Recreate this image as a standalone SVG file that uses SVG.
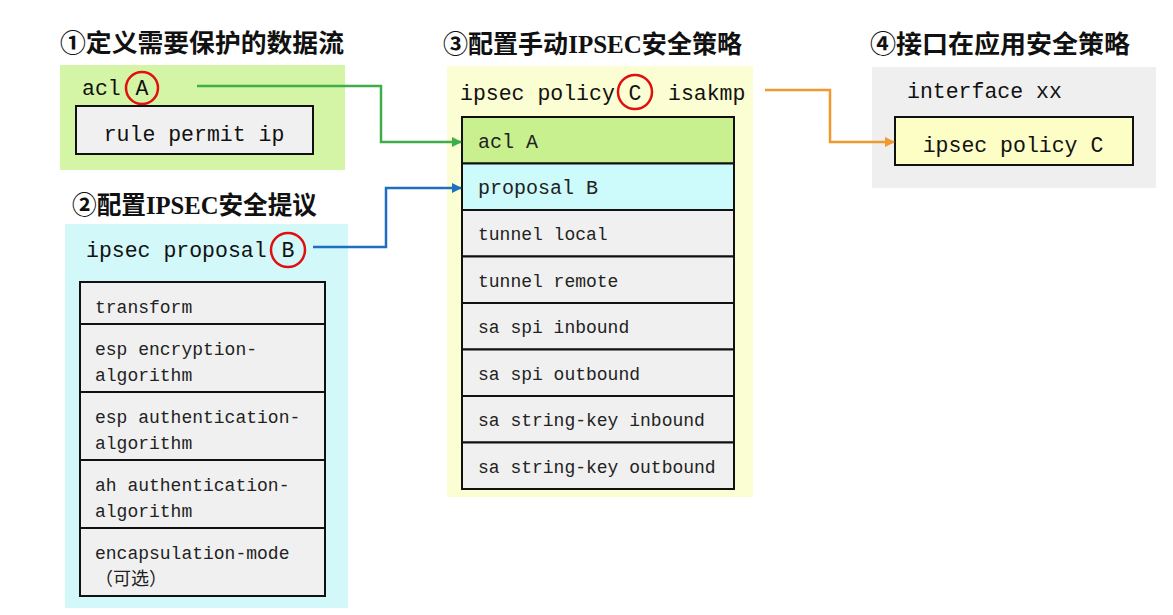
<svg xmlns="http://www.w3.org/2000/svg" width="1173" height="615" viewBox="0 0 1173 615">
<defs>
<style>
.h{font-family:"Liberation Serif","Noto Sans CJK SC",serif;font-weight:bold;font-size:25px;fill:#111}
.m{font-family:"Liberation Mono","Noto Sans CJK SC",monospace;font-size:21.5px;fill:#111}
.s{font-family:"Liberation Mono","Noto Sans CJK SC",monospace;font-size:18px;fill:#222}
.row{fill:#f0f0f0;stroke:#111;stroke-width:2}
.circ{fill:none;stroke:#e01010;stroke-width:2.5}
.conn{fill:none;stroke-width:2.5}
</style>
<marker id="ag" markerWidth="10" markerHeight="10" refX="9" refY="5" orient="auto" markerUnits="userSpaceOnUse"><path d="M0,0 L10,5 L0,10 z" fill="#3fae49"/></marker>
<marker id="ab" markerWidth="10" markerHeight="10" refX="9" refY="5" orient="auto" markerUnits="userSpaceOnUse"><path d="M0,0 L10,5 L0,10 z" fill="#1f6fc0"/></marker>
<marker id="ao" markerWidth="10" markerHeight="10" refX="9" refY="5" orient="auto" markerUnits="userSpaceOnUse"><path d="M0,0 L10,5 L0,10 z" fill="#f0992e"/></marker>
</defs>
<rect width="1173" height="615" fill="#ffffff"/>

<g id="acl-panel">
<text class="h" x="60" y="52" textLength="284" lengthAdjust="spacingAndGlyphs">①定义需要保护的数据流</text>
<rect x="60" y="65" width="285" height="105" fill="#d5f5a6"/>
<text class="m" x="82" y="95">acl</text>
<circle class="circ" cx="142" cy="88" r="16"/>
<text class="m" x="142" y="95" text-anchor="middle">A</text>
<rect x="76" y="106" width="237" height="48" class="row"/>
<text class="m" x="194" y="141" text-anchor="middle">rule permit ip</text>
</g>

<g id="proposal-panel">
<text class="h" x="72" y="214" textLength="245" lengthAdjust="spacingAndGlyphs">②配置IPSEC安全提议</text>
<rect x="65" y="224" width="283" height="384" fill="#d2f8fa"/>
<text class="m" x="86" y="257">ipsec proposal</text>
<circle class="circ" cx="288" cy="250" r="17"/>
<text class="m" x="288" y="257" text-anchor="middle">B</text>
<rect x="80" y="282" width="245" height="42" class="row"/>
<rect x="80" y="324" width="245" height="68" class="row"/>
<rect x="80" y="392" width="245" height="68" class="row"/>
<rect x="80" y="460" width="245" height="68" class="row"/>
<rect x="80" y="528" width="245" height="68" class="row"/>
<text class="s" x="95" y="313">transform</text>
<text class="s" x="95" y="355">esp encryption-</text>
<text class="s" x="95" y="381">algorithm</text>
<text class="s" x="95" y="423">esp authentication-</text>
<text class="s" x="95" y="449">algorithm</text>
<text class="s" x="95" y="491">ah authentication-</text>
<text class="s" x="95" y="517">algorithm</text>
<text class="s" x="95" y="559">encapsulation-mode</text>
<text class="s" x="95" y="585">（可选）</text>
</g>

<g id="policy-panel">
<text class="h" x="443" y="53" textLength="299" lengthAdjust="spacingAndGlyphs">③配置手动IPSEC安全策略</text>
<rect x="447" y="66" width="306" height="431" fill="#fbfdd2"/>
<text class="m" x="460" y="100">ipsec policy</text>
<circle class="circ" cx="635" cy="92" r="17"/>
<text class="m" x="635" y="100" text-anchor="middle">C</text>
<text class="m" x="668" y="100">isakmp</text>
<rect x="462" y="117" width="272" height="46.5" class="row" style="fill:#c9f08e"/>
<rect x="462" y="163.5" width="272" height="46.5" class="row" style="fill:#cdfafa"/>
<rect x="462" y="210" width="272" height="46.5" class="row"/>
<rect x="462" y="256.5" width="272" height="46.5" class="row"/>
<rect x="462" y="303" width="272" height="46.5" class="row"/>
<rect x="462" y="349.5" width="272" height="46.5" class="row"/>
<rect x="462" y="396" width="272" height="46.5" class="row"/>
<rect x="462" y="442.5" width="272" height="46.5" class="row"/>
<text class="s" x="478" y="148" style="font-size:20px">acl A</text>
<text class="s" x="478" y="194" style="font-size:20px">proposal B</text>
<text class="s" x="478" y="240">tunnel local</text>
<text class="s" x="478" y="287">tunnel remote</text>
<text class="s" x="478" y="333">sa spi inbound</text>
<text class="s" x="478" y="380">sa spi outbound</text>
<text class="s" x="478" y="426">sa string-key inbound</text>
<text class="s" x="478" y="473">sa string-key outbound</text>
</g>

<g id="interface-panel">
<text class="h" x="870" y="53" textLength="260" lengthAdjust="spacingAndGlyphs">④接口在应用安全策略</text>
<rect x="872" y="67" width="284" height="121" fill="#efefef"/>
<text class="m" x="907" y="98">interface xx</text>
<rect x="895" y="117" width="238" height="48" class="row" style="fill:#fdfdc6"/>
<text class="m" x="1013" y="152" text-anchor="middle">ipsec policy C</text>
</g>

<g id="connectors">
<path class="conn" d="M197,86 H381 V142 H461" stroke="#3fae49" marker-end="url(#ag)"/>
<path class="conn" d="M313,247 H386 V188 H461" stroke="#1f6fc0" marker-end="url(#ab)"/>
<path class="conn" d="M765,90 H830 V142 H894" stroke="#f0992e" marker-end="url(#ao)"/>
</g>
</svg>
